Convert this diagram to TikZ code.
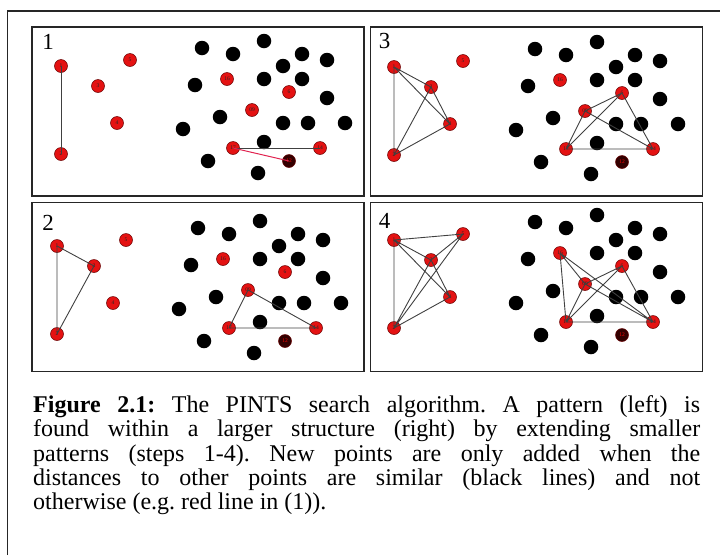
\documentclass[tikz,border=0pt]{standalone}
\usepackage{fontspec}
\setmainfont{Liberation Serif}
\definecolor{badred}{RGB}{225,35,80}
\definecolor{dotred}{RGB}{228,18,18}

\tikzset{
  bdot/.style={circle, fill=black, minimum size=14.5pt, inner sep=0pt},
  rdot/.style={circle, draw=red!40!black, fill=dotred, line width=0.5pt, minimum size=13pt, inner sep=0pt, font=\fontsize{5.5}{5.5}\selectfont, text=black!85},
  ddot/.style={rdot, fill=red!20!black, text=red},
  link/.style={draw=black!75, line width=0.9pt},
  badlink/.style={draw=badred, line width=1pt},
  panelbox/.style={draw=black!85, line width=1.8pt, minimum width=332pt, minimum height=169pt, inner sep=0pt},
  stepnum/.style={font=\fontsize{23}{23}\selectfont, inner sep=0pt, anchor=north west},
  caption/.style={anchor=north west, inner sep=0pt, text width=667pt, align=justify, font=\fontsize{24}{24.3}\selectfont\frenchspacing}
}

% all points of one panel: pattern (left) and structure (right)
\newcommand{\pointset}{%
  \foreach \x/\y [count=\i] in {202/48, 233/54, 264/41, 302/54, 327/60, 283/66, 195/85, 264/79, 302/79,
      327/98, 220/117, 183/129, 283/123, 308/123, 345/123, 264/142, 208/161, 258/173}
    \node[bdot] (b\i) at (\x,\y) {};
  % pattern
  \node[rdot] (p1) at (61,66) {1};
  \node[rdot] (p2) at (61,154) {2};
  \node[rdot] (p3) at (98,86) {3};
  \node[rdot] (p4) at (117,123) {4};
  \node[rdot] (p5) at (130,60) {5};
  % structure
  \node[rdot] (s16) at (227,79) {16};
  \node[rdot] (s6) at (289,92) {6};
  \node[rdot] (s9) at (252,110) {09};
  \node[rdot] (s17) at (233,148) {17};
  \node[rdot] (s14) at (320,148) {14};
  \node[ddot] (s12) at (289,161) {12};
}

\begin{document}
\begin{tikzpicture}[x=1pt, y=-1pt]
  \useasboundingbox (0,0) rectangle (720,555);

  % outer frame
  \draw[line width=1.8pt, black!85] (7.5,555) -- (7.5,11) -- (720,11);

  % panels
  \node[panelbox] (panel1) at (198,111.5) {};
  \node[panelbox] (panel3) at (536.5,111.5) {};
  \node[panelbox] (panel2) at (198,287) {};
  \node[panelbox] (panel4) at (536.5,287) {};

  \node[stepnum] (n1) at ([shift={(11,8)}]panel1.north west) {1};
  \node[stepnum] (n2) at ([shift={(11,13)}]panel2.north west) {2};
  \node[stepnum] (n3) at ([shift={(9,7)}]panel3.north west) {3};
  \node[stepnum] (n4) at ([shift={(9,12)}]panel4.north west) {4};

  % step 1
  \begin{scope}[name prefix=A-]
    \pointset
    \draw[link] (p1.center) -- (p2.center);
    \draw[link] (s17.center) -- (s14.center);
    \draw[badlink] (s17.center) -- (s12.center);
  \end{scope}

  % step 2
  \begin{scope}[shift={(-4,180)}, name prefix=B-]
    \pointset
    \draw[link] (p1.center) -- (p2.center) (p1.center) -- (p3.center) (p3.center) -- (p2.center);
    \draw[link] (s9.center) -- (s17.center) (s9.center) -- (s14.center) (s17.center) -- (s14.center);
  \end{scope}

  % step 3
  \begin{scope}[shift={(333,1)}, name prefix=C-]
    \pointset
    \draw[link] (p1.center) -- (p2.center) (p1.center) -- (p3.center) (p3.center) -- (p2.center)
      (p4.center) -- (p1.center) (p4.center) -- (p3.center) (p4.center) -- (p2.center);
    \draw[link] (s9.center) -- (s17.center) (s9.center) -- (s14.center) (s17.center) -- (s14.center)
      (s6.center) -- (s9.center) (s6.center) -- (s17.center) (s6.center) -- (s14.center);
  \end{scope}

  % step 4
  \begin{scope}[shift={(333,174)}, name prefix=D-]
    \pointset
    \draw[link] (p1.center) -- (p2.center) (p1.center) -- (p3.center) (p3.center) -- (p2.center)
      (p4.center) -- (p1.center) (p4.center) -- (p3.center) (p4.center) -- (p2.center)
      (p5.center) -- (p1.center) (p5.center) -- (p3.center) (p5.center) -- (p2.center);
    \draw[link] (s9.center) -- (s17.center) (s9.center) -- (s14.center) (s17.center) -- (s14.center)
      (s6.center) -- (s9.center) (s6.center) -- (s17.center) (s6.center) -- (s14.center)
      (s16.center) -- (s9.center) (s16.center) -- (s17.center) (s16.center) -- (s14.center);
  \end{scope}

  % caption
  \node[caption] (cap) at (33,395.5) {\textbf{Figure 2.1:} The PINTS search algorithm. A pattern (left) is\linebreak
    found within a larger structure (right) by extending smaller\linebreak
    patterns (steps 1-4). New points are only added when the\linebreak
    distances to other points are similar (black lines) and not\linebreak
    otherwise (e.g. red line in (1)).};
\end{tikzpicture}
\end{document}
